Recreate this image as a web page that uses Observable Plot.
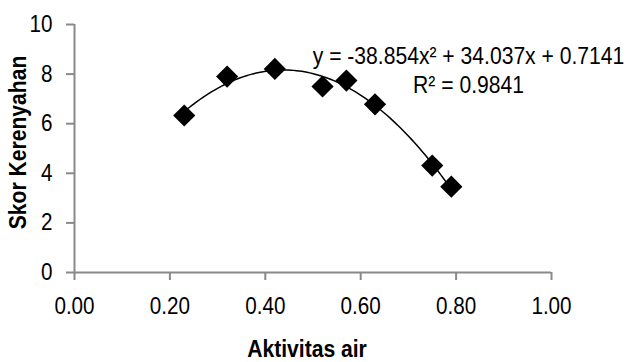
<!DOCTYPE html>
<html>
<head>
<meta charset="utf-8">
<script src="https://cdn.jsdelivr.net/npm/d3@7"></script>
<script src="https://cdn.jsdelivr.net/npm/@observablehq/plot@0.6"></script>
<style>
  html, body { margin: 0; padding: 0; background: #fff; }
  #chart svg { display: block; }
</style>
</head>
<body>
<div id="chart"></div>
<script>
const aktivitasAir = [0.23, 0.32, 0.42, 0.52, 0.57, 0.63, 0.75, 0.79];
const skorKerenyahan = [6.33, 7.9, 8.21, 7.5, 7.74, 6.78, 4.31, 3.46];
const xTicks = [0, 0.2, 0.4, 0.6, 0.8, 1.0];
const yTicks = [0, 2, 4, 6, 8, 10];
const coef = [-38.854, 34.037, 0.7141];
const eqLabel = "y = -38.854x² + 34.037x + 0.7141\nR² = 0.9841";

const points = aktivitasAir.map((x, i) => ({x, y: skorKerenyahan[i]}));
const xmin = d3.min(aktivitasAir), xmax = d3.max(aktivitasAir);
const trend = d3.range(0, 101).map(i => {
  const x = xmin + (xmax - xmin) * i / 100;
  return {x, y: coef[0] * x * x + coef[1] * x + coef[2]};
});

const FONT = "'Liberation Sans', Arial, sans-serif";
const AXIS = "#898989";

const plot = Plot.plot({
  width: 627,
  height: 362,
  marginLeft: 74,
  marginRight: 76,
  marginTop: 24,
  marginBottom: 90,
  style: {fontFamily: FONT, background: "#fff", color: "#000"},
  x: {domain: [0, 1]},
  y: {domain: [0, 10]},
  marks: [
    Plot.axisX({ticks: xTicks, tickFormat: d3.format(".2f"), tickSize: 8, tickPadding: 17,
      stroke: AXIS, strokeWidth: 2, strokeOpacity: 1, fill: "#000", fontSize: 23.5, label: null}),
    Plot.axisY({ticks: yTicks, tickSize: 8, tickPadding: 14,
      stroke: AXIS, strokeWidth: 2, strokeOpacity: 1, fill: "#000", fontSize: 23.5, label: null}),
    Plot.ruleY([0], {stroke: AXIS, strokeWidth: 2}),
    Plot.ruleX([0], {stroke: AXIS, strokeWidth: 2}),
    Plot.line(trend, {x: "x", y: "y", stroke: "#000", strokeWidth: 1.5, curve: "linear"}),
    Plot.dot(points, {x: "x", y: "y", symbol: "diamond2", r: 10, fill: "#000", stroke: "none"}),
    Plot.text([eqLabel], {frameAnchor: "top-right", dx: -83, dy: 19, textAnchor: "middle", lineAnchor: "top",
      lineHeight: 1.2, fontSize: 24, fill: "#000", fontFamily: FONT}),
    Plot.text(["Aktivitas air"], {frameAnchor: "bottom", dx: -6, dy: 84, textAnchor: "middle",
      fontSize: 24, fontWeight: "bold", fill: "#000", fontFamily: FONT}),
    Plot.text(["Skor Kerenyahan"], {frameAnchor: "left", dx: -56, dy: -6, rotate: -90, textAnchor: "middle",
      fontSize: 24, fontWeight: "bold", fill: "#000", fontFamily: FONT})
  ]
});
document.getElementById("chart").appendChild(plot);

// Condense glyphs horizontally (about each text's own anchor) to mimic the narrow typeface
const SQUEEZE = 0.88;
plot.querySelectorAll("text").forEach(t => {
  const span = t.querySelector("tspan[x]");
  const ax = parseFloat((span || t).getAttribute("x")) || 0;
  const tr = t.getAttribute("transform") || "";
  t.setAttribute("transform", `${tr} translate(${ax},0) scale(${SQUEEZE},1) translate(${-ax},0)`.trim());
});
</script>
</body>
</html>
